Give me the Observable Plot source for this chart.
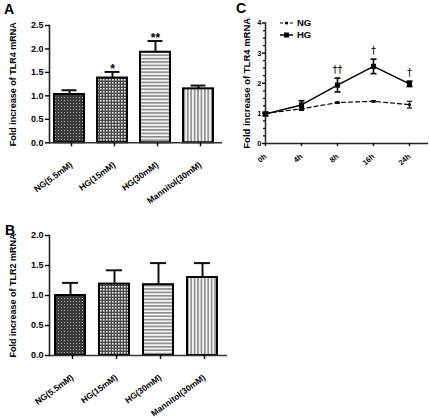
<!DOCTYPE html>
<html><head><meta charset="utf-8">
<script src="https://cdn.jsdelivr.net/npm/d3@7"></script>
<script src="https://cdn.jsdelivr.net/npm/@observablehq/plot@0.6"></script>
<style>
body{margin:0;background:#fff;}
#wrap{position:relative;width:430px;height:418px;font-family:"Liberation Sans",Arial,sans-serif;overflow:hidden;}
.panel{position:absolute;}
.letter{position:absolute;font-weight:bold;font-size:14px;line-height:14px;}
</style></head><body>
<div id="wrap">
<svg width="0" height="0" style="position:absolute"><defs>
<pattern id="pNG" width="3" height="3" patternUnits="userSpaceOnUse"><rect width="3" height="3" fill="#3a3a3a"/><rect x="1" y="1" width="1" height="1" fill="#a8a8a8"/></pattern>
<pattern id="pHG15" width="3" height="3" patternUnits="userSpaceOnUse"><rect width="3" height="3" fill="#484848"/><rect x="1" y="1" width="1.6" height="1.6" fill="#f0f0f0"/></pattern>
<pattern id="pHG30" width="4" height="3.4" patternUnits="userSpaceOnUse"><rect width="4" height="3.4" fill="#f4f4f4"/><rect width="4" height="1.6" fill="#8c8c8c"/></pattern>
<pattern id="pMan" width="3.4" height="4" patternUnits="userSpaceOnUse"><rect width="3.4" height="4" fill="#f4f4f4"/><rect width="1.6" height="4" fill="#8c8c8c"/></pattern>
</defs></svg>
<div class="letter" style="left:4px;top:2px">A</div>
<div class="letter" style="left:5px;top:223px">B</div>
<div class="letter" style="left:236px;top:1px">C</div>
<div class="panel" id="pa" style="left:0;top:0"></div>
<div class="panel" id="pb" style="left:0;top:210px"></div>
<div class="panel" id="pc" style="left:215px;top:0"></div>
<svg class="panel" style="left:276px;top:16px" width="50" height="26">
  <line x1="4" x2="17" y1="7" y2="7" stroke="#000" stroke-width="1.2" stroke-dasharray="3,2"/>
  <circle cx="10.5" cy="7" r="1.6" fill="#000"/>
  <text x="21" y="7" dy="0.35em" font-size="9.5" font-weight="bold" font-family="Liberation Sans, Arial, sans-serif">NG</text>
  <line x1="4" x2="17" y1="19" y2="19" stroke="#000" stroke-width="1.5"/>
  <rect x="8" y="16.5" width="5" height="5" fill="#000"/>
  <text x="21" y="19" dy="0.35em" font-size="9.5" font-weight="bold" font-family="Liberation Sans, Arial, sans-serif">HG</text>
</svg>
</div>
<script>
// ---- data ----
const groups = ["NG(5.5mM)", "HG(15mM)", "HG(30mM)", "Mannitol(30mM)"];
const tlr4Mean = [1.03, 1.38, 1.93, 1.15];
const tlr4Err  = [0.09, 0.13, 0.24, 0.07];
const tlr4Sig  = ["", "*", "**", ""];
const tlr2Mean = [1.00, 1.19, 1.18, 1.30];
const tlr2Err  = [0.21, 0.23, 0.36, 0.24];
const tlr4Ticks = [0, 0.5, 1, 1.5, 2, 2.5];
const tlr2Ticks = [0, 0.5, 1, 1.5, 2];

const times  = ["0h", "4h", "8h", "16h", "24h"];
const ngMean = [1.00, 1.15, 1.36, 1.40, 1.29];
const ngErr  = [0.03, 0.05, 0.02, 0.02, 0.11];
const hgMean = [0.98, 1.28, 1.94, 2.56, 1.98];
const hgErr  = [0.06, 0.14, 0.23, 0.24, 0.09];
const hgSig  = ["", "", "††", "†", "†"];
const timeTicks  = [0, 1, 2, 3, 4];
const timeMinor  = [0.25,0.5,0.75,1.25,1.5,1.75,2.25,2.5,2.75,3.25,3.5,3.75];

const fillPatterns = ["url(#pNG)", "url(#pHG15)", "url(#pHG30)", "url(#pMan)"];
const FONT = "Liberation Sans, Arial, sans-serif";

function barPanel(means, errs, sig, ticks, ymax, title, opt) {
  const data = groups.map((g, i) => ({g, v: means[i], e: errs[i], s: sig[i] || ""}));
  return Plot.plot({
    width: 225, height: opt.height,
    marginLeft: 49, marginTop: 25, marginRight: opt.marginRight, marginBottom: opt.marginBottom,
    style: {fontFamily: FONT, background: "transparent", overflow: "visible", color: "#000"},
    x: {domain: groups, paddingInner: opt.pi, paddingOuter: opt.po, label: null},
    y: {domain: [0, ymax], label: null},
    color: {domain: groups, range: fillPatterns},
    marks: [
      Plot.ruleX(data, {x: "g", y1: "v", y2: d => d.v + d.e, stroke: "#111", strokeWidth: 2}),
      Plot.tickY(data, {x: "g", y: d => d.v + d.e, stroke: "#111", strokeWidth: 2, insetLeft: opt.cap, insetRight: opt.cap}),
      Plot.barY(data, {x: "g", y: "v", fill: "g", stroke: "#000", strokeWidth: 2}),
      Plot.text(data, {x: "g", y: d => d.v + d.e, text: "s", dy: -3, fontSize: 12, fontWeight: "bold", fill: "#000"}),
      Plot.ruleY([0], {stroke: "#333", strokeWidth: 1.6, insetRight: -3}),
      Plot.frame({anchor: "left", stroke: "#222", strokeWidth: 1.6}),
      Plot.axisY({ticks, tickSize: 4, tickPadding: 2, tickFormat: d3.format(".1f"), fontSize: 9, fontWeight: "bold", label: null, strokeWidth: 1.4, fill: "#000"}),
      Plot.axisX({tickRotate: -36, tickSize: 4, tickPadding: 17, dx: 2, fontSize: 8.5, fontWeight: "bold", label: null, strokeWidth: 1.4, fill: "#000"}),
      Plot.text([title], {text: d => d, frameAnchor: "left", rotate: -90, textAnchor: "middle", dx: -36, fontSize: 9, fontWeight: "bold", fill: "#000"})
    ]
  });
}

document.getElementById("pa").appendChild(
  barPanel(tlr4Mean, tlr4Err, tlr4Sig, tlr4Ticks, 2.5, "Fold increase of TLR4 mRNA",
    {height: 200, marginRight: 6, marginBottom: 57.7, pi: 0.3, po: 0.11, cap: 7.5}));
document.getElementById("pb").appendChild(
  barPanel(tlr2Mean, tlr2Err, [], tlr2Ticks, 2.0, "Fold increase of TLR2 mRNA",
    {height: 208, marginRight: 1, marginBottom: 63, pi: 0.31, po: 0.1, cap: 7}));

// ---- panel C ----
const capSymbol = {draw(ctx, size) { const w = Math.sqrt(size / Math.PI); ctx.moveTo(-w, 0); ctx.lineTo(w, 0); }};
const ng = times.map((t, i) => ({t, v: ngMean[i], e: ngErr[i]}));
const hg = times.map((t, i) => ({t, v: hgMean[i], e: hgErr[i], s: hgSig[i]}));

document.getElementById("pc").appendChild(Plot.plot({
  width: 215, height: 200,
  marginLeft: 50, marginTop: 22.5, marginRight: 2, marginBottom: 57,
  style: {fontFamily: FONT, background: "transparent", overflow: "visible", color: "#000"},
  x: {type: "point", domain: times, padding: 0.24, align: 0, label: null},
  y: {domain: [0, 4], label: null},
  marks: [
    Plot.line(ng, {x: "t", y: "v", stroke: "#000", strokeWidth: 1.2, strokeDasharray: "4,3"}),
    Plot.line(hg, {x: "t", y: "v", stroke: "#000", strokeWidth: 1.5}),
    Plot.ruleX(ng, {x: "t", y1: d => d.v - d.e, y2: d => d.v + d.e, stroke: "#000", strokeWidth: 1.2}),
    Plot.dot(ng, {x: "t", y: d => d.v - d.e, symbol: capSymbol, r: 2.5, fill: "none", stroke: "#000", strokeWidth: 1.2}),
    Plot.dot(ng, {x: "t", y: d => d.v + d.e, symbol: capSymbol, r: 2.5, fill: "none", stroke: "#000", strokeWidth: 1.2}),
    Plot.ruleX(hg, {x: "t", y1: d => d.v - d.e, y2: d => d.v + d.e, stroke: "#000", strokeWidth: 1.6}),
    Plot.dot(hg, {x: "t", y: d => d.v - d.e, symbol: capSymbol, r: 3, fill: "none", stroke: "#000", strokeWidth: 1.6}),
    Plot.dot(hg, {x: "t", y: d => d.v + d.e, symbol: capSymbol, r: 3, fill: "none", stroke: "#000", strokeWidth: 1.6}),
    Plot.dot(ng, {x: "t", y: "v", r: 1.6, fill: "#000"}),
    Plot.dot(hg, {x: "t", y: "v", symbol: "square", r: 2.9, fill: "#000"}),
    Plot.text(hg, {x: "t", y: d => d.v + d.e, text: "s", dy: -8, fontSize: 10, fill: "#000", fontFamily: "DejaVu Sans, Liberation Sans, sans-serif"}),
    Plot.ruleY([0], {stroke: "#222", strokeWidth: 1.5}),
    Plot.frame({anchor: "left", stroke: "#222", strokeWidth: 1.5}),
    Plot.axisY({ticks: timeMinor, tickSize: 2, tickFormat: () => "", label: null, strokeWidth: 1.2}),
    Plot.axisY({ticks: timeTicks, tickSize: 3, tickPadding: 1, tickFormat: d3.format("d"), fontSize: 7.5, fontWeight: "bold", label: null, strokeWidth: 1.4, fill: "#000"}),
    Plot.axisX({tickRotate: -40, tickSize: 3, tickPadding: 9, dx: 0, fontSize: 7.5, fontWeight: "bold", label: null, strokeWidth: 1.4, fill: "#000"}),
    Plot.text(["Fold increase of TLR4 mRNA"], {text: d => d, frameAnchor: "left", rotate: -90, textAnchor: "middle", dx: -19, fontSize: 9.5, fontWeight: "bold", fill: "#000"})
  ]
}));
</script>
</body></html>
